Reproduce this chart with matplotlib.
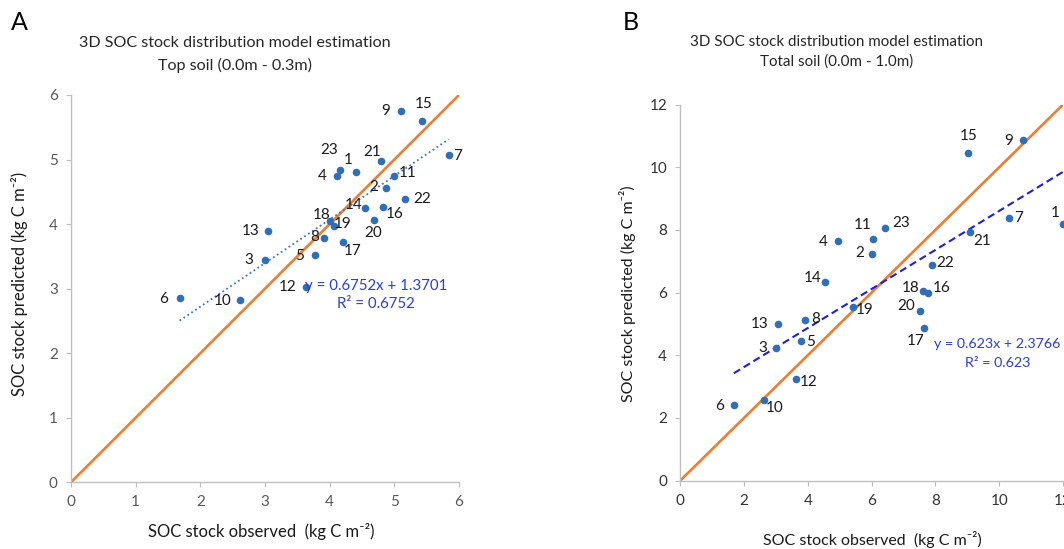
import matplotlib
matplotlib.use("Agg")
import matplotlib.pyplot as plt
import numpy as np

plt.rcParams['font.family'] = ['Lato', 'DejaVu Sans']

W, H = 1064, 549

# --- data: panel A (top soil 0.0-0.3 m)
ids_a = [9, 15, 7, 21, 23, 4, 1, 11, 2, 22, 14, 16, 20, 18, 19, 13, 8, 17, 5, 3, 12, 6, 10]
obs_a = [5.11, 5.43, 5.84, 4.79, 4.16, 4.12, 4.40, 4.99, 4.87, 5.16, 4.55, 4.82, 4.68,
         4.01, 4.06, 3.05, 3.92, 4.21, 3.77, 3.00, 3.63, 1.68, 2.62]
pred_a = [5.75, 5.60, 5.07, 4.98, 4.84, 4.75, 4.80, 4.75, 4.56, 4.39, 4.25, 4.27, 4.07,
          4.05, 3.97, 3.89, 3.78, 3.72, 3.52, 3.44, 3.03, 2.86, 2.83]
fit_a = (0.6752, 1.3701)
r2_a = 0.6752

# --- data: panel B (total soil 0.0-1.0 m)
ids_b = [15, 9, 7, 1, 21, 11, 23, 4, 2, 22, 14, 18, 16, 19, 20, 17, 13, 8, 5, 3, 12, 10, 6]
obs_b = [9.03, 10.73, 10.31, 12.0, 9.08, 6.05, 6.41, 4.94, 6.01, 7.90, 4.55, 7.60, 7.77,
         5.42, 7.52, 7.64, 3.05, 3.92, 3.77, 3.01, 3.64, 2.62, 1.68]
pred_b = [10.46, 10.88, 8.39, 8.18, 7.93, 7.71, 8.06, 7.63, 7.22, 6.88, 6.33, 6.04, 6.00,
          5.55, 5.40, 4.88, 5.00, 5.11, 4.44, 4.24, 3.25, 2.58, 2.40]
fit_b = (0.623, 2.3766)
r2_b = 0.623

# label offsets in pixels (dx right, dy down)
off_a = {9: (-16, 0), 15: (2, -17), 7: (9, 1), 21: (-9, -9), 23: (-11, -20), 4: (-15, 0),
         1: (-7, -12), 11: (14, -3), 2: (-12, -1), 22: (17, 0), 14: (-12, -3), 16: (12, 7),
         20: (0, 13), 18: (-9, -6), 19: (9, -2), 13: (-18, 0), 8: (-10, -1), 17: (9, 9),
         5: (-15, 1), 3: (-16, 0), 12: (-18, 0), 6: (-16, 1), 10: (-18, 1)}
off_b = {15: (0, -17), 9: (-14, 1), 7: (9, 0), 1: (-8, -11), 21: (12, 9), 11: (-11, -14),
         23: (16, -5), 4: (-15, 1), 2: (-12, -1), 22: (13, -2), 14: (-13, -4), 18: (-12, -3),
         16: (13, -4), 19: (11, 3), 20: (-14, -5), 17: (-8, 13), 13: (-18, 0), 8: (10, -1),
         5: (10, 1), 3: (-14, 0), 12: (12, 3), 10: (11, 8), 6: (-14, 1)}

dot = '#2F6EBA'
orange = '#ED7D31'
axcol = '#BFBFBF'
eqcol = '#2B3FD4'


def fpos(x, y):
    return x / W, 1 - y / H


def style_axes(ax, lim, step, tickcol):
    ax.set_xlim(0, lim)
    ax.set_ylim(0, lim)
    ax.set_xticks(np.arange(0, lim + 0.1, step))
    ax.set_yticks(np.arange(0, lim + 0.1, step))
    for s in ['top', 'right']:
        ax.spines[s].set_visible(False)
    for s in ['left', 'bottom']:
        ax.spines[s].set_color(axcol)
        ax.spines[s].set_linewidth(1.0)
    ax.tick_params(direction='out', length=3.5, width=0.8, color=axcol,
                   labelcolor=tickcol, labelsize=11, pad=6)
    ax.patch.set_alpha(0)


def draw(ax, ids, obs, pred, offs, fit, lim, trend_style):
    ax.plot([0, lim], [0, lim], color=orange, lw=1.9, zorder=2)
    xs = np.array([min(obs), max(obs)])
    ax.plot(xs, fit[0] * xs + fit[1], zorder=3, **trend_style)
    ax.scatter(obs, pred, s=30, color=dot, zorder=4, clip_on=False, linewidths=0)
    for i, x, y in zip(ids, obs, pred):
        dx, dy = offs[i]
        ax.annotate(str(i), (x, y), xytext=(dx * 0.72, -dy * 0.72), textcoords='offset points',
                    ha='center', va='center', fontsize=11, color='#1a1a1a', zorder=5)


fig = plt.figure(figsize=(W / 100, H / 100), dpi=100)

# panel A
axA = fig.add_axes([71 / W, 1 - 482.3 / H, 388 / W, 387.3 / H])
style_axes(axA, 6, 1, '#595959')
draw(axA, ids_a, obs_a, pred_a, off_a, fit_a, 6,
     dict(color='#4472C4', lw=1.3, ls=(0, (1, 1.6))))
fig.text(*fpos(376, 286), 'y = %.4fx + %.4f' % fit_a, ha='center', va='center',
         fontsize=10.8, color=eqcol)
fig.text(*fpos(376, 304), 'R² = %.4f' % r2_a, ha='center', va='center',
         fontsize=10.8, color=eqcol)
fig.text(*fpos(235, 43), '3D SOC stock distribution model estimation', ha='center',
         va='center', fontsize=11.6, color='#262626')
fig.text(*fpos(235, 65), 'Top soil (0.0m - 0.3m)', ha='center', va='center',
         fontsize=11.6, color='#262626')
fig.text(*fpos(261, 531), 'SOC stock observed  (kg C m⁻²)', ha='center', va='center',
         fontsize=12, color='#1a1a1a')
fig.text(*fpos(20, 284), 'SOC stock predicted (kg C m⁻²)', ha='center', va='center',
         rotation=90, fontsize=12, color='#1a1a1a')
fig.text(*fpos(19, 22), 'A', ha='center', va='center', fontsize=18, color='black')

# panel B
axB = fig.add_axes([680.3 / W, 1 - 480.5 / H, 382.8 / W, 376 / H])
style_axes(axB, 12, 2, '#333333')
draw(axB, ids_b, obs_b, pred_b, off_b, fit_b, 12,
     dict(color='#1F1FD6', lw=1.5, ls=(0, (3.5, 2))))
fig.text(*fpos(997, 344), 'y = %.3fx + %.4f' % fit_b, ha='center', va='center',
         fontsize=10.3, color=eqcol)
fig.text(*fpos(998, 363), 'R² = %.3f' % r2_b, ha='center', va='center',
         fontsize=10.3, color=eqcol)
fig.text(*fpos(837, 42), '3D SOC stock distribution model estimation', ha='center',
         va='center', fontsize=10.9, color='#262626')
fig.text(*fpos(837, 62), 'Total soil (0.0m - 1.0m)', ha='center', va='center',
         fontsize=10.9, color='#262626')
fig.text(*fpos(872, 540), 'SOC stock observed  (kg C m⁻²)', ha='center', va='center',
         fontsize=11.5, color='#1a1a1a')
fig.text(*fpos(628, 294), 'SOC stock predicted (kg C m⁻²)', ha='center', va='center',
         rotation=90, fontsize=11.5, color='#1a1a1a')
fig.text(*fpos(631, 23), 'B', ha='center', va='center', fontsize=18, color='black')

fig.savefig('out.png', dpi=100)
